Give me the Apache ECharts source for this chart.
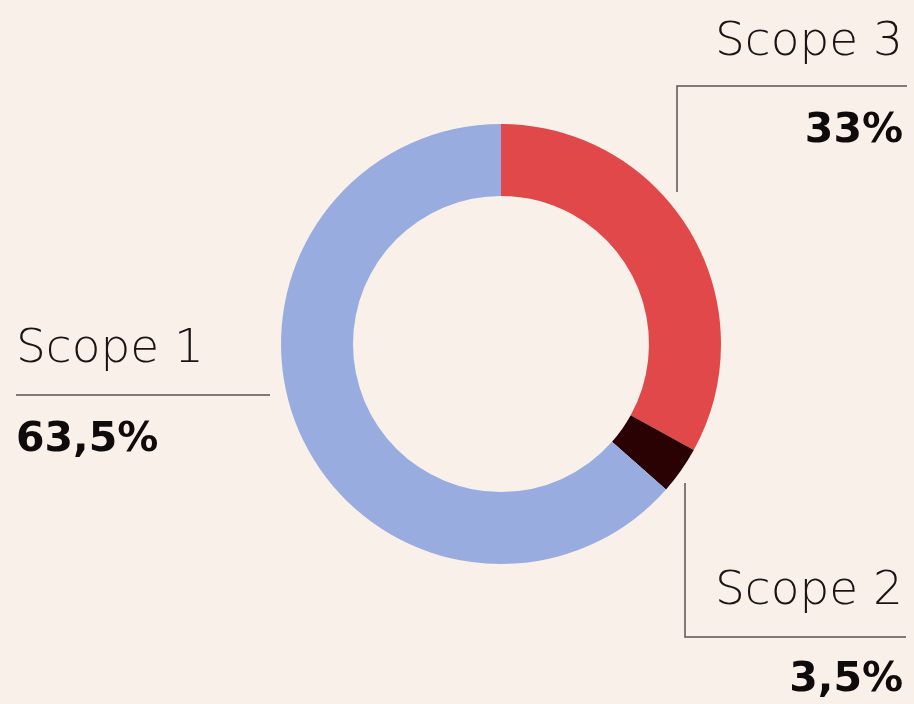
<!DOCTYPE html>
<html>
<head>
<meta charset="utf-8">
<script src="https://cdn.jsdelivr.net/npm/echarts@6/dist/echarts.min.js"></script>
<style>
  html, body { margin: 0; padding: 0; background: #f9f0ea; }
  #chart { width: 914px; height: 704px; }
</style>
</head>
<body>
<div id="chart"></div>
<script>
// Data, clockwise from the top
const scopes = ["Scope 3", "Scope 2", "Scope 1"];
const shares = [33, 3.5, 63.5];
const shareLabels = ["33%", "3,5%", "63,5%"];
const colors = ["#e0484a", "#2b0204", "#98acdf"];

// Label placement (x, y = top of label block, line = leader polyline)
const labelSpots = [
  { x: 903, y: 2, align: "right", nameH: 82, valH: 94,
    line: [[677, 192], [677, 86], [907, 86]] },
  { x: 903, y: 547, align: "right", nameH: 90, valH: 86,
    line: [[685, 483], [685, 637], [906, 637]] },
  { x: 16, y: 305, align: "left", nameH: 90, valH: 90,
    line: [[270, 395], [270, 395], [16, 395]] },
];

const chart = echarts.init(document.getElementById("chart"));

const pieData = scopes.map((name, i) => ({
  name: name,
  value: shares[i],
  itemStyle: { color: colors[i] },
  label: {
    align: labelSpots[i].align,
    rich: {
      name: {
        fontFamily: "DejaVu Sans",
        fontWeight: 200,
        fontSize: 47,
        color: "#1a1414",
        lineHeight: labelSpots[i].nameH,
        align: labelSpots[i].align,
      },
      val: {
        fontFamily: "DejaVu Sans",
        fontWeight: "bold",
        fontSize: 41,
        color: "#0f0b0b",
        lineHeight: labelSpots[i].valH,
        align: labelSpots[i].align,
      },
    },
  },
}));

const option = {
  backgroundColor: "#f9f0ea",
  animation: false,
  series: [
    {
      type: "pie",
      center: [501, 344],
      radius: [148, 220],
      startAngle: 90,
      clockwise: true,
      avoidLabelOverlap: false,
      silent: true,
      data: pieData,
      label: {
        show: true,
        position: "outside",
        formatter: (p) => `{name|${p.name}}\n{val|${shareLabels[p.dataIndex]}}`,
      },
      labelLine: {
        show: true,
        lineStyle: { color: "#5e5252", width: 1.5 },
      },
      labelLayout: (params) => {
        const spot = labelSpots[params.dataIndex];
        return {
          x: spot.x,
          y: spot.y,
          align: spot.align,
          verticalAlign: "top",
          labelLinePoints: spot.line,
        };
      },
    },
  ],
};

chart.setOption(option);
</script>
</body>
</html>
